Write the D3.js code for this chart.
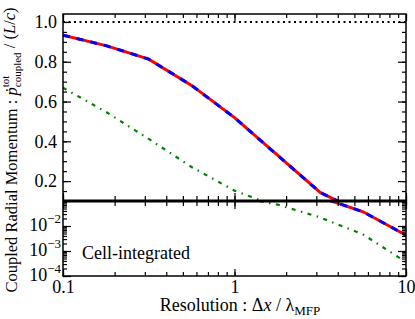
<!DOCTYPE html>
<html>
<head>
<meta charset="utf-8">
<script src="https://cdn.jsdelivr.net/npm/d3@7"></script>
<style>
  body { margin: 0; background: #fff; }
  svg { display: block; }
  svg text { font-family: "Liberation Serif", "Times New Roman", "DejaVu Serif", serif !important; }
</style>
</head>
<body>
<svg id="chart" width="415" height="319"></svg>
<script>
// resolution (dx / mfp) and coupled momentum, cell-integrated runs
var resolution = [0.1, 0.178, 0.316, 0.562, 1, 1.78, 3.16, 5.62, 10];
var momentumA = [0.934, 0.881, 0.813, 0.681, 0.519, 0.330, 0.143, 0.037, 0.0043];
var momentumB = [0.669, 0.548, 0.412, 0.271, 0.152, 0.072, 0.022, 0.0046, 0.00036];
var refLevel = [1.0, 1.0];
var xTickLabels = [0.1, 1, 10];
var topTickLabels = [0.2, 0.4, 0.6, 0.8, 1.0];
var botTickLabels = [1e-2, 1e-3, 1e-4];

var svg = d3.select("#chart");

var pLeft = 63, pRight = 406, pTop = 14, pMid = 201, pBottom = 276;

var x = d3.scaleLog().domain([0.1, 10]).range([pLeft, pRight]);
var yTop = d3.scaleLinear().domain([0.1, 1.04]).range([pMid, pTop]);
var yBot = d3.scaleLog().domain([1e-4, 0.1]).range([pBottom, pMid]);

var defs = svg.append("defs");
defs.append("clipPath").attr("id", "clipTop")
  .append("rect").attr("x", pLeft).attr("y", pTop).attr("width", pRight - pLeft).attr("height", pMid - pTop);
defs.append("clipPath").attr("id", "clipBot")
  .append("rect").attr("x", pLeft).attr("y", pMid).attr("width", pRight - pLeft).attr("height", pBottom - pMid);

var panels = [
  {y: yTop, clip: "clipTop"},
  {y: yBot, clip: "clipBot"}
];

panels.forEach(function(p) {
  var g = svg.append("g").attr("clip-path", "url(#" + p.clip + ")");

  var line = d3.line()
    .x(function(d, i) { return x(resolution[i]); })
    .y(function(d) { return p.y(d); });

  // reference level
  g.append("path")
    .datum(refLevel)
    .attr("d", d3.line().x(function(d, i) { return x(i === 0 ? 0.1 : 10); }).y(function(d) { return p.y(d); }))
    .attr("fill", "none")
    .attr("stroke", "#000")
    .attr("stroke-width", 2)
    .attr("stroke-dasharray", "2,3.5");

  g.append("path")
    .datum(momentumB)
    .attr("d", line)
    .attr("fill", "none")
    .attr("stroke", "#008000")
    .attr("stroke-width", 2.2)
    .attr("stroke-dasharray", "4,5.5,1.5,5.5");

  g.append("path")
    .datum(momentumA)
    .attr("d", line)
    .attr("fill", "none")
    .attr("stroke", "#ff0000")
    .attr("stroke-width", 3);

  g.append("path")
    .datum(momentumA)
    .attr("d", line)
    .attr("fill", "none")
    .attr("stroke", "#0000ff")
    .attr("stroke-width", 3)
    .attr("stroke-dasharray", "7,7");
});

function noDomain(g) { g.select(".domain").remove(); }

var xMinor = x.ticks();

// x ticks: top of upper panel
svg.append("g").attr("transform", "translate(0," + pTop + ")")
  .call(d3.axisTop(x).tickValues(xMinor).tickSize(-4).tickFormat(""))
  .call(noDomain);
svg.append("g").attr("transform", "translate(0," + pTop + ")")
  .call(d3.axisTop(x).tickValues(xTickLabels).tickSize(-7).tickFormat(""))
  .call(noDomain);

// x ticks on the divider, both panels
svg.append("g").attr("transform", "translate(0," + pMid + ")")
  .call(d3.axisBottom(x).tickValues(xMinor).tickSize(-5).tickFormat(""))
  .call(noDomain);
svg.append("g").attr("transform", "translate(0," + pMid + ")")
  .call(d3.axisTop(x).tickValues(xMinor).tickSize(-5).tickFormat(""))
  .call(noDomain);
svg.append("g").attr("transform", "translate(0," + pMid + ")")
  .call(d3.axisBottom(x).tickValues(xTickLabels).tickSize(-8).tickFormat(""))
  .call(noDomain);
svg.append("g").attr("transform", "translate(0," + pMid + ")")
  .call(d3.axisTop(x).tickValues(xTickLabels).tickSize(-8).tickFormat(""))
  .call(noDomain);

// x ticks bottom with labels
svg.append("g").attr("transform", "translate(0," + pBottom + ")")
  .call(d3.axisBottom(x).tickValues(xMinor).tickSize(-4).tickFormat(""))
  .call(noDomain);
svg.append("g").attr("transform", "translate(0," + pBottom + ")")
  .call(d3.axisBottom(x).tickValues(xTickLabels).tickSize(-7).tickPadding(4).tickFormat(function(d) { return d3.format("~g")(d); }))
  .call(noDomain)
  .selectAll("text").attr("font-size", 18).attr("fill", "#000");

// upper panel y ticks
var topMinor = yTop.ticks(20).filter(function(d) { return d > 0.11; });
svg.append("g").attr("transform", "translate(" + pLeft + ",0)")
  .call(d3.axisLeft(yTop).tickValues(topMinor).tickSize(-4).tickFormat(""))
  .call(noDomain);
svg.append("g").attr("transform", "translate(" + pLeft + ",0)")
  .call(d3.axisLeft(yTop).tickValues(topTickLabels).tickSize(-8).tickPadding(6).tickFormat(d3.format(".1f")))
  .call(noDomain)
  .selectAll("text").attr("font-size", 18).attr("fill", "#000");
svg.append("g").attr("transform", "translate(" + pRight + ",0)")
  .call(d3.axisRight(yTop).tickValues(topMinor).tickSize(-4).tickFormat(""))
  .call(noDomain);
svg.append("g").attr("transform", "translate(" + pRight + ",0)")
  .call(d3.axisRight(yTop).tickValues(topTickLabels).tickSize(-8).tickFormat(""))
  .call(noDomain);

// lower panel y ticks (log)
var botMinor = yBot.ticks();
var botMajor = [1e-4, 1e-3, 1e-2, 1e-1];
svg.append("g").attr("transform", "translate(" + pLeft + ",0)")
  .call(d3.axisLeft(yBot).tickValues(botMinor).tickSize(-4).tickFormat(""))
  .call(noDomain);
svg.append("g").attr("transform", "translate(" + pLeft + ",0)")
  .call(d3.axisLeft(yBot).tickValues(botMajor).tickSize(-8).tickFormat(""))
  .call(noDomain);
svg.append("g").attr("transform", "translate(" + pRight + ",0)")
  .call(d3.axisRight(yBot).tickValues(botMinor).tickSize(-4).tickFormat(""))
  .call(noDomain);
svg.append("g").attr("transform", "translate(" + pRight + ",0)")
  .call(d3.axisRight(yBot).tickValues(botMajor).tickSize(-8).tickFormat(""))
  .call(noDomain);

svg.selectAll(".tick line").attr("stroke", "#000").attr("stroke-width", 1.2);

// log labels 10^n
var botLabels = svg.append("g").selectAll("text")
  .data(botTickLabels)
  .enter().append("text")
    .attr("x", pLeft - 2)
    .attr("y", function(d) { return yBot(d); })
    .attr("dy", "0.25em")
    .attr("text-anchor", "end")
    .attr("font-size", 18);
botLabels.append("tspan").text("10");
botLabels.append("tspan")
  .attr("font-size", 13)
  .attr("dy", "-0.55em")
  .text(function(d) { return "\u2212" + Math.round(-Math.log10(d)); });

// frames
svg.append("rect").attr("x", pLeft).attr("y", pTop).attr("width", pRight - pLeft).attr("height", pBottom - pTop)
  .attr("fill", "none").attr("stroke", "#000").attr("stroke-width", 1.5);
svg.append("line").attr("x1", pLeft).attr("x2", pRight).attr("y1", pMid).attr("y2", pMid)
  .attr("stroke", "#000").attr("stroke-width", 2.8);

// panel note
svg.append("text")
  .attr("x", 82).attr("y", 259)
  .attr("font-size", 18)
  .text("Cell-integrated");

// x label
var xl = svg.append("text")
  .attr("x", 240).attr("y", 311)
  .attr("text-anchor", "middle")
  .attr("font-size", 18);
xl.append("tspan").text("Resolution :  \u0394");
xl.append("tspan").attr("font-style", "italic").text("x");
xl.append("tspan").text(" / \u03bb");
xl.append("tspan").attr("font-size", 13).attr("dy", "0.3em").text("MFP");

// y label
var yl = svg.append("text")
  .attr("transform", "translate(17," + ((pTop + pBottom) / 2 + 5) + ") rotate(-90)")
  .attr("text-anchor", "middle")
  .attr("font-size", 16.5);
yl.append("tspan").text("Coupled Radial Momentum : ");
yl.append("tspan").attr("font-style", "italic").text("\u1e57");
yl.append("tspan").attr("font-size", 11).attr("dy", "-0.7em").text("tot");
yl.append("tspan").attr("font-size", 11).attr("dx", -11.6).attr("dy", "1.05em").text("coupled");
yl.append("tspan").attr("dy", "-0.35em").text(" / (");
yl.append("tspan").attr("font-style", "italic").text("L");
yl.append("tspan").text("/");
yl.append("tspan").attr("font-style", "italic").text("c");
yl.append("tspan").text(")");
</script>
</body>
</html>
